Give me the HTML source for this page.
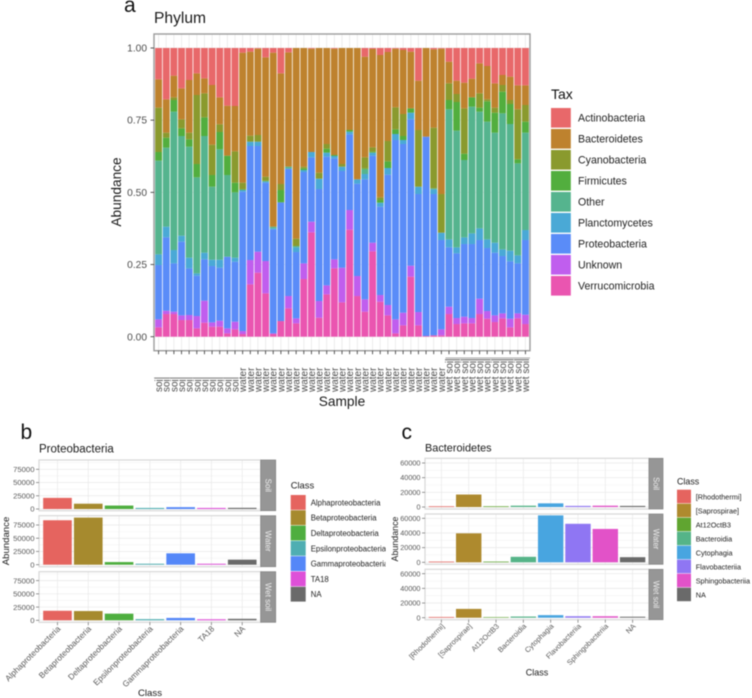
<!DOCTYPE html>
<html lang="en">
<head>
<meta charset="utf-8">
<title>Phylum and class abundance</title>
<style>
html,body{margin:0;padding:0;background:#fff;width:752px;height:698px;overflow:hidden}
svg{display:block;font-family:"Liberation Sans",sans-serif;filter:blur(0.5px)}
</style>
</head>
<body>
<svg id="figure" xmlns="http://www.w3.org/2000/svg" width="752" height="698" viewBox="0 0 752 698">
  <rect x="0" y="0" width="752" height="698" fill="#fff"/>
  <text x="124" y="12" font-size="21" fill="#111">a</text>
  <text x="154" y="23" font-size="15.6" fill="#1a1a1a">Phylum</text>
  <text transform="translate(121,192) rotate(-90)" text-anchor="middle" font-size="13.7" fill="#1a1a1a">Abundance</text>
  <text x="342" y="406" text-anchor="middle" font-size="13.7" fill="#1a1a1a">Sample</text>
  <text x="551" y="99" font-size="14" fill="#111">Tax</text>
  <g id="phylum-chart"></g>

  <text x="20.5" y="439" font-size="21" fill="#111">b</text>
  <text x="39" y="452.7" font-size="11.5" fill="#1a1a1a">Proteobacteria</text>
  <text transform="translate(9,541) rotate(-90)" text-anchor="middle" font-size="9.6" fill="#1a1a1a">Abundance</text>
  <text x="150" y="696" text-anchor="middle" font-size="9.6" fill="#1a1a1a">Class</text>
  <text x="290.7" y="488.7" font-size="9.4" fill="#1a1a1a">Class</text>
  <g id="proteo-chart"></g>

  <rect x="385.5" y="415" width="366.5" height="283" fill="#fff"/>
  <text x="401.5" y="439" font-size="21" fill="#111">c</text>
  <text x="425" y="451.7" font-size="10.9" fill="#1a1a1a">Bacteroidetes</text>
  <text transform="translate(398,539) rotate(-90)" text-anchor="middle" font-size="8.9" fill="#1a1a1a">Abundance</text>
  <text x="537" y="675.7" text-anchor="middle" font-size="9" fill="#1a1a1a">Class</text>
  <text x="677" y="484.3" font-size="8.9" fill="#1a1a1a">Class</text>
  <g id="bact-chart"></g>
</svg>
<script>
// ---- Phylum chart data (stacked to 100 % per sample) ----
const sampleCategories = ["soil","soil","soil","soil","soil","soil","soil","soil","soil","soil","soil",
"water","water","water","water","water","water","water","water","water","water","water","water","water","water","water","water","water","water","water","water","water","water","water","water","water","water","water",
"wet soil","wet soil","wet soil","wet soil","wet soil","wet soil","wet soil","wet soil","wet soil","wet soil","wet soil"];
const phylumTicks = [0, 0.25, 0.5, 0.75, 1];
const phylumTickLabels = ["0.00","0.25","0.50","0.75","1.00"];
const taxNames = ["Actinobacteria","Bacteroidetes","Cyanobacteria","Firmicutes","Other","Planctomycetes","Proteobacteria","Unknown","Verrucomicrobia"];
const taxColors = ["#E8686A","#BE822E","#8A9A2E","#52AE3E","#55B48E","#4AA9D6","#5A8CF8","#C05EEE","#EA55B0"];
const verrucomicrobia = [28,68,68,50,50,25,42,30,30,10,22, 8,157,192,130,8,47,85,40,173,313,57,127,205,103,321,122,75,256,105,64,10,34,180,34,2,4,4, 68,38,40,40,68,54,44,55,28,55,38];
const unknownTax = [24,10,7,14,15,37,66,13,18,15,23, 9,73,63,97,2,0,37,15,47,32,50,27,27,104,59,60,37,26,20,31,42,38,33,40,0,0,18, 22,18,20,16,46,23,20,15,26,15,28];
const proteobacteria = [163,220,145,221,140,121,124,169,159,215,180, 418,342,317,235,312,356,382,199,274,193,336,386,303,290,227,277,360,261,265,391,538,506,439,354,598,424,268, 178,194,218,222,176,189,188,172,172,150,224];
const planctomycetes = [32,32,40,18,32,7,20,19,24,0,12, 5,13,13,4,3,0,0,14,6,16,31,12,7,13,8,13,16,9,12,20,18,12,20,22,0,14,22, 24,18,20,32,35,26,30,20,32,24,30];
const otherTax = [281,237,415,299,333,288,350,219,331,245,196, 0,0,0,0,5,0,6,4,0,0,0,0,0,0,0,0,14,0,0,0,0,0,0,0,0,3,0, 390,350,232,380,350,353,330,408,380,276,292];
const firmicutes = [26,30,35,23,22,40,56,35,52,58,29, 2,0,0,2,0,37,0,0,5,0,0,12,3,0,5,0,3,3,8,20,14,12,13,0,0,0,0, 28,86,19,28,12,61,60,65,60,12,33];
const cyanobacteria = [133,15,8,27,20,207,72,91,23,0,94, 20,18,20,12,0,18,0,22,5,0,18,14,0,8,0,0,33,13,8,61,66,66,0,170,0,182,116, 50,24,136,0,43,6,15,20,12,150,50];
const bacteroidetes = [85,100,65,93,158,65,45,179,81,150,136, 390,252,259,358,522,332,343,572,356,310,374,288,319,348,246,394,302,295,427,267,176,192,170,148,266,235,436, 65,40,77,56,90,100,73,30,70,72,59];
const actinobacteria = [94,154,83,121,96,76,91,111,148,173,174, 14,11,2,28,14,76,13,0,0,2,0,0,2,0,0,0,26,3,21,12,2,6,11,98,0,4,2, 41,98,104,92,46,54,106,81,86,112,112];

// ---- Proteobacteria chart data ----
const proteoCategories = ["Alphaproteobacteria","Betaproteobacteria","Deltaproteobacteria","Epsilonproteobacteria","Gammaproteobacteria","TA18","NA"];
const proteoColors = ["#E5645F","#A68A2E","#4EAE3F","#4FAEB2","#5487F8","#DE50D8","#6A6A6A"];
const proteoTicks = [0, 25000, 50000, 75000];
const proteoSoil = [21000,10000,6500,2000,3500,2000,2200];
const proteoWater = [84000,89000,5000,1800,21500,1800,9500];
const proteoWetSoil = [18000,17500,12500,2200,4500,2000,2800];

// ---- Bacteroidetes chart data ----
const bactCategories = ["[Rhodothermi]","[Saprospirae]","At12OctB3","Bacteroidia","Cytophagia","Flavobacteriia","Sphingobacteriia","NA"];
const bactColors = ["#E5645F","#AE8A2E","#60A530","#55B488","#48A5E0","#8F76F3","#E252C8","#6A6A6A"];
const bactTicks = [0, 20000, 40000, 60000];
const bactSoil = [1000,17000,1000,1800,5000,1500,1800,1500];
const bactWater = [1000,39500,1000,7500,64000,52500,45500,7000];
const bactWetSoil = [1000,12000,800,1600,3500,2000,2000,1300];

const facetNames = ["Soil","Water","Wet soil"];

const NS = "http://www.w3.org/2000/svg";
function mk(parent, tag, attrs, txt) {
  const el = document.createElementNS(NS, tag);
  for (const k in attrs) el.setAttribute(k, attrs[k]);
  if (txt !== undefined) el.textContent = txt;
  parent.appendChild(el);
  return el;
}

// ---------- Phylum stacked bars ----------
(function () {
  const g = document.getElementById("phylum-chart");
  const left = 154, right = 530, top = 34, bottom = 350.7;
  const y0 = 336.7, y1 = 48;
  const n = sampleCategories.length;
  const step = (right - left) / (n - 1 + 1.2);
  const xPos = i => left + (0.6 + i) * step;
  const yPos = v => y0 + (y1 - y0) * v;
  const stackBottomUp = [verrucomicrobia, unknownTax, proteobacteria, planctomycetes, otherTax, firmicutes, cyanobacteria, bacteroidetes, actinobacteria];
  const stackColors = taxColors.slice().reverse();
  const stackNames = taxNames.slice().reverse();

  phylumTicks.forEach((t) => {
    const line = mk(g, "line", {x1: left, x2: right, y1: yPos(t), y2: yPos(t), stroke: "#ebebeb", "stroke-width": 0.8});
    
    
  });
  sampleCategories.forEach((s, i) => {
    const line = mk(g, "line", {x1: xPos(i), x2: xPos(i), y1: top, y2: bottom, stroke: "#e6e6e6", "stroke-width": 0.7});
    
    
  });

  sampleCategories.forEach((s, i) => {
    let total = 0;
    stackBottomUp.forEach(series => { total += series[i]; });
    let acc = 0;
    stackBottomUp.forEach((series, k) => {
      const v = series[i] / total;
      if (v > 0) {
        const yTop = yPos(acc + v), yBot = yPos(acc);
        const r = mk(g, "rect", {x: xPos(i) - step * 0.45, y: yTop, width: step * 0.9, height: yBot - yTop, fill: stackColors[k]});
        
        
      }
      acc += v;
    });
  });

  const frame = mk(g, "rect", {x: left, y: top, width: right - left, height: bottom - top, fill: "none", stroke: "#9c9c9c", "stroke-width": 1.4});
  
  

  phylumTicks.forEach((t, i) => {
    const tick = mk(g, "line", {x1: left - 3.5, x2: left, y1: yPos(t), y2: yPos(t), stroke: "#333", "stroke-width": 0.8});
    
    
    const lab = mk(g, "text", {x: 147, y: yPos(t), dy: "0.35em", "text-anchor": "end", "font-size": 10.2, fill: "#4d4d4d"}, phylumTickLabels[i]);
    
    
  });

  sampleCategories.forEach((s, i) => {
    const tick = mk(g, "line", {x1: xPos(i), x2: xPos(i), y1: bottom, y2: bottom + 3.5, stroke: "#333", "stroke-width": 0.8});
    
    
    const lab = mk(g, "text", {transform: "translate(" + xPos(i) + ",392) rotate(-90)", dy: "0.35em", "font-size": 10, fill: "#4d4d4d"}, s);
    
    
  });

  const soilRule = mk(g, "line", {x1: left, x2: 238.5, y1: 378, y2: 378, stroke: "#8a8a8a", "stroke-width": 0.8});
  
  
  const wetRule = mk(g, "line", {x1: 445.5, x2: right, y1: 358, y2: 358, stroke: "#8a8a8a", "stroke-width": 0.8});
  
  

  taxNames.forEach((name, i) => {
    const key = mk(g, "rect", {x: 551, y: 108 + i * 21, width: 19.8, height: 19.6, fill: taxColors[i]});
    
    
    const lab = mk(g, "text", {x: 578, y: 118 + i * 21, dy: "0.35em", "font-size": 10.6, fill: "#222"}, name);
    
    
  });
})();

// ---------- Faceted class bar charts ----------
function drawFacets(g, opt, categories, colors, ticks, facetValues) {
  const n = categories.length;
  const step = (opt.right - opt.left) / (n - 1 + 1.2);
  const xPos = i => opt.left + (0.6 + i) * step;
  const pxPerUnit = opt.tickSpan / ticks[ticks.length - 1];

  facetValues.forEach((values, f) => {
    const top = opt.tops[f], bottom = opt.bottoms[f], zero = opt.zeros[f];
    const yPos = v => zero - v * pxPerUnit;
    const minorStep = ticks[1] / 2;
    for (let m = minorStep; yPos(m) > top; m += 2 * minorStep) {
      const minor = mk(g, "line", {x1: opt.left, x2: opt.right, y1: yPos(m), y2: yPos(m), stroke: "#f3f3f3", "stroke-width": 0.6});
      
      
    }
    ticks.forEach(t => {
      const line = mk(g, "line", {x1: opt.left, x2: opt.right, y1: yPos(t), y2: yPos(t), stroke: "#e8e8e8", "stroke-width": 0.7});
      
      
    });
    categories.forEach((c, i) => {
      const line = mk(g, "line", {x1: xPos(i), x2: xPos(i), y1: top, y2: bottom, stroke: "#e8e8e8", "stroke-width": 0.7});
      
      
    });
    values.forEach((v, i) => {
      const w = step * 0.93;
      const bar = mk(g, "rect", {x: xPos(i) - w / 2, y: yPos(v), width: w, height: zero - yPos(v), fill: colors[i]});
      
      
    });
    const border = mk(g, "rect", {x: opt.left, y: top, width: opt.right - opt.left, height: bottom - top, fill: "none", stroke: "#d8d8d8", "stroke-width": 1.2});
    
    
    const strip = mk(g, "rect", {x: opt.right, y: top, width: opt.stripW, height: bottom - top, fill: "#969696", stroke: "#808080", "stroke-width": 0.7});
    
    
    const cy = (top + bottom) / 2, cx = opt.right + opt.stripW / 2;
    const stripText = mk(g, "text", {transform: "translate(" + cx + "," + cy + ") rotate(90)", dy: "0.35em", "text-anchor": "middle", "font-size": opt.stripFont, fill: "#ededed"}, facetNames[f]);
    
    
    ticks.forEach(t => {
      const tick = mk(g, "line", {x1: opt.left - 3, x2: opt.left, y1: yPos(t), y2: yPos(t), stroke: "#555", "stroke-width": 0.6});
      
      
      const lab = mk(g, "text", {x: opt.left - 4.5, y: yPos(t), dy: "0.35em", "text-anchor": "end", "font-size": opt.tickFont, fill: "#5a5a5a"}, String(t));
      
      
    });
  });

  const lastBottom = opt.bottoms[2];
  categories.forEach((c, i) => {
    const tick = mk(g, "line", {x1: xPos(i), x2: xPos(i), y1: lastBottom, y2: lastBottom + 3, stroke: "#555", "stroke-width": 0.6});
    
    
    const lab = mk(g, "text", {transform: "translate(" + (xPos(i) + 3.5) + "," + (lastBottom + 7) + ") rotate(-45)", "text-anchor": "end", "font-size": opt.xFont, fill: "#5a5a5a"}, c);
    
    
  });

  categories.forEach((c, i) => {
    const key = mk(g, "rect", {x: opt.legendX, y: opt.legendY + i * opt.legendStep, width: opt.keyW, height: opt.legendStep - 0.5, fill: colors[i]});
    
    
    const lab = mk(g, "text", {x: opt.legendTextX, y: opt.legendY + (i + 0.5) * opt.legendStep, dy: "0.35em", "font-size": opt.legendFont, fill: "#222"}, c);
    
    
  });
}

drawFacets(document.getElementById("proteo-chart"), {
  left: 39, right: 260.7, stripW: 15,
  tops: [460, 515.7, 571.7], bottoms: [510.7, 566.7, 622.3], zeros: [509, 564.7, 620.3],
  tickSpan: 39.7, tickFont: 7.7, xFont: 8.3, stripFont: 8,
  legendX: 290.7, legendY: 495, legendStep: 15.3, keyW: 15, legendTextX: 310.7, legendFont: 7.8
}, proteoCategories, proteoColors, proteoTicks, [proteoSoil, proteoWater, proteoWetSoil]);

drawFacets(document.getElementById("bact-chart"), {
  left: 425, right: 649, stripW: 14,
  tops: [458.3, 514, 569.3], bottoms: [509, 564.3, 619.7], zeros: [507, 562.3, 617.7],
  tickSpan: 44, tickFont: 7.3, xFont: 7.4, stripFont: 7.8,
  legendX: 677, legendY: 489.7, legendStep: 14, keyW: 14, legendTextX: 695.7, legendFont: 7.3
}, bactCategories, bactColors, bactTicks, [bactSoil, bactWater, bactWetSoil]);
</script>
</body>
</html>
